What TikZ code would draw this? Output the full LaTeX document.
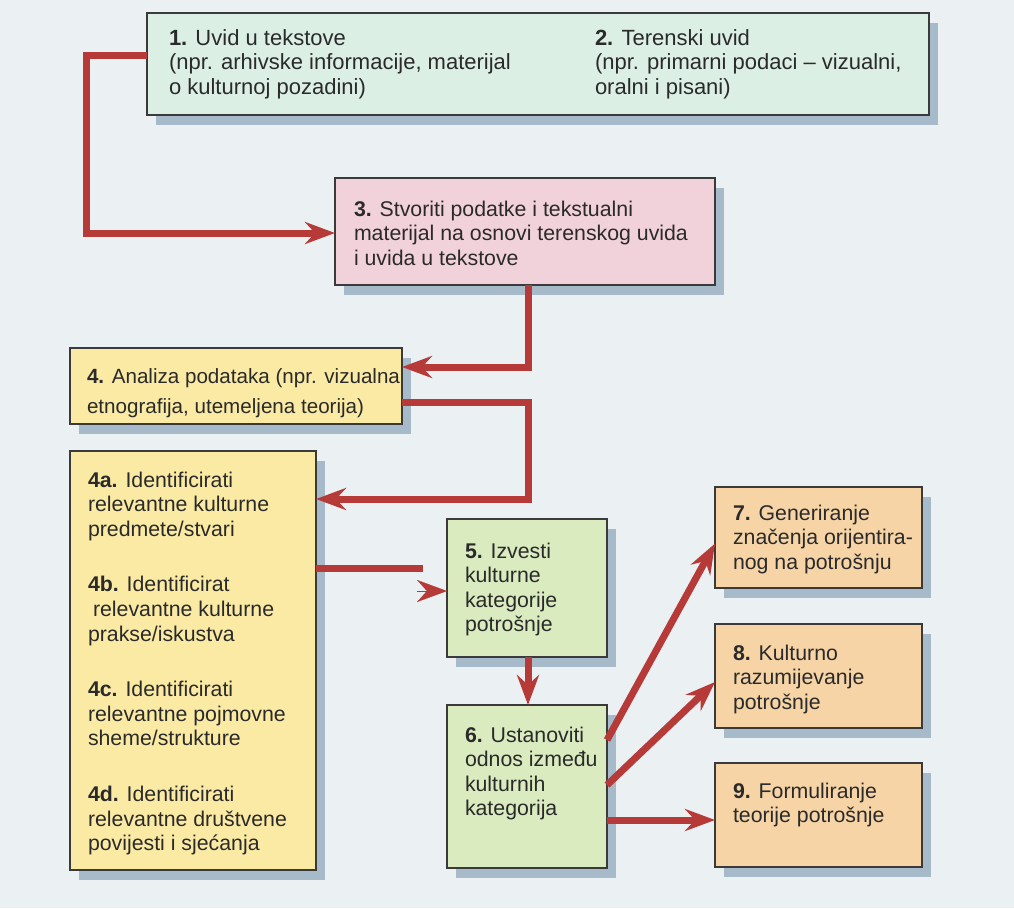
\documentclass[tikz,border=0pt]{standalone}
\usepackage{fontspec}
\setmainfont{Liberation Sans}
\usetikzlibrary{arrows.meta,shadows,calc}
\definecolor{bgc}{HTML}{EBF0F3}
\definecolor{mintc}{HTML}{DCEFE5}
\definecolor{pinkc}{HTML}{F2D2DA}
\definecolor{yellc}{HTML}{FAEAA4}
\definecolor{greenc}{HTML}{DAEBBF}
\definecolor{orangec}{HTML}{F6D4A6}
\definecolor{arrc}{HTML}{B53A38}
\definecolor{boxline}{HTML}{3A3A3A}
\definecolor{shadowc}{HTML}{A6BACA}
\definecolor{txtc}{HTML}{2A2A2A}
\newcommand\nb[1]{\textbf{#1}}
\newcommand\mkbox[6]{\node[box, fill=#6, minimum width={#4-#2}, minimum height={#5-#3}] (#1) at ({(#2+#4)/2},{(#3+#5)/2}) {};}
\newcommand\mktxt[5]{\node[#4, anchor=north west] (#1) at (#2,#3-18) {\rule{0pt}{18pt}#5};}
\begin{document}
\begin{tikzpicture}[x=1pt,y=-1pt,
  box/.style={draw=boxline, line width=1.3pt, inner sep=0pt, outer sep=0pt,
    drop shadow={shadow xshift=9pt, shadow yshift=-10pt, fill=shadowc, opacity=1}},
  txtbase/.style={inner sep=0pt, outer sep=0pt, align=left, text=txtc},
  ttop/.style={txtbase, font=\fontsize{22}{24.5}\selectfont},
  tmain/.style={txtbase, font=\fontsize{21.3}{24.6}\selectfont},
  tfour/.style={txtbase, font=\fontsize{20.6}{30}\selectfont},
  conn/.style={draw=arrc, line width=7pt, line join=miter},
  arr/.style={conn, -{Stealth[length=30pt, width=22pt, inset=10pt]}},
  headonly/.style={draw=arrc, line width=0.1pt, -{Stealth[length=30pt, width=22pt, inset=10pt, fill=arrc]}}
]
\path[use as bounding box, fill=bgc] (0,0) rectangle (1014,908);

% boxes
\mkbox{b12}{147}{13}{929}{115}{mintc}
\mkbox{b3}{335}{178}{715}{285}{pinkc}
\mkbox{b4}{70}{348}{402}{424}{yellc}
\mkbox{b4a}{70}{451}{316}{870}{yellc}
\mkbox{b5}{447}{519}{607}{657}{greenc}
\mkbox{b6}{447}{705}{607}{868}{greenc}
\mkbox{b7}{715}{487}{922}{588}{orangec}
\mkbox{b8}{715}{624}{922}{728}{orangec}
\mkbox{b9}{715}{763}{922}{867}{orangec}

% texts
\mktxt{t1}{169}{45}{ttop}{\nb{1.} Uvid u tekstove\\(npr. arhivske informacije, materijal\\o kulturnoj pozadini)}
\mktxt{t2}{595}{45}{ttop}{\nb{2.} Terenski uvid\\(npr. primarni podaci – vizualni,\\oralni i pisani)}
\mktxt{t3}{354}{216}{tmain}{\nb{3.} Stvoriti podatke i tekstualni\\materijal na osnovi terenskog uvida\\i uvida u tekstove}
\mktxt{t4}{87}{383}{tfour}{\nb{4.} Analiza podataka (npr. vizualna\\etnografija, utemeljena teorija)}
\mktxt{t4a}{88}{487}{tmain}{\nb{4a.} Identificirati\\relevantne kulturne\\predmete/stvari\\[31pt]%
\nb{4b.} Identificirat\\\hspace*{5pt}relevantne kulturne\\prakse/iskustva\\[31pt]%
\nb{4c.} Identificirati\\relevantne pojmovne\\sheme/strukture\\[31pt]%
\nb{4d.} Identificirati\\relevantne društvene\\povijesti i sjećanja}
\mktxt{t5}{465}{558}{tmain}{\nb{5.} Izvesti\\kulturne\\kategorije\\potrošnje}
\mktxt{t6}{465}{742}{tmain}{\nb{6.} Ustanoviti\\odnos između\\kulturnih\\kategorija}
\mktxt{t7}{733}{520}{tmain}{\nb{7.} Generiranje\\značenja orijentira-\\nog na potrošnju}
\mktxt{t8}{733}{660}{tmain}{\nb{8.} Kulturno\\razumijevanje\\potrošnje}
\mktxt{t9}{733}{798}{tmain}{\nb{9.} Formuliranje\\teorije potrošnje}

% bend points
\coordinate (k1) at (86,55);
\coordinate (k2) at (86,233);
\coordinate (c1) at (528,367);
\coordinate (c2) at (528,402);
\coordinate (c3) at (528,499);
\coordinate (c4) at (423,568);
\coordinate (c5) at (417,591);
\coordinate (c6) at (607,820);
\coordinate (d7) at (607,740);
\coordinate (d8) at (607,785);

% connectors
\draw[arr] (b12.west |- k1) -- (k1) -- (k2) -- (b3.west |- k2);
\draw[arr] (b3.south -| c1) -- (c1) -- (b4.east |- c1);
\draw[arr] (b4.east |- c2) -- (c2) -- (c3) -- (b4a.east |- c3);
\draw[conn] (b4a.east |- c4) -- (c4);
\draw[headonly] (c5) -- (b5.west |- c5);
\draw[arr] (b5.south -| c1) -- (b6.north -| c1);
\draw[arr] (d7) -- ($(b7.west)+(0,6)$);
\draw[arr] (d8) -- ($(b8.west)+(0,6)$);
\draw[arr] (b6.east |- c6) -- (b9.west |- c6);
\end{tikzpicture}
\end{document}
